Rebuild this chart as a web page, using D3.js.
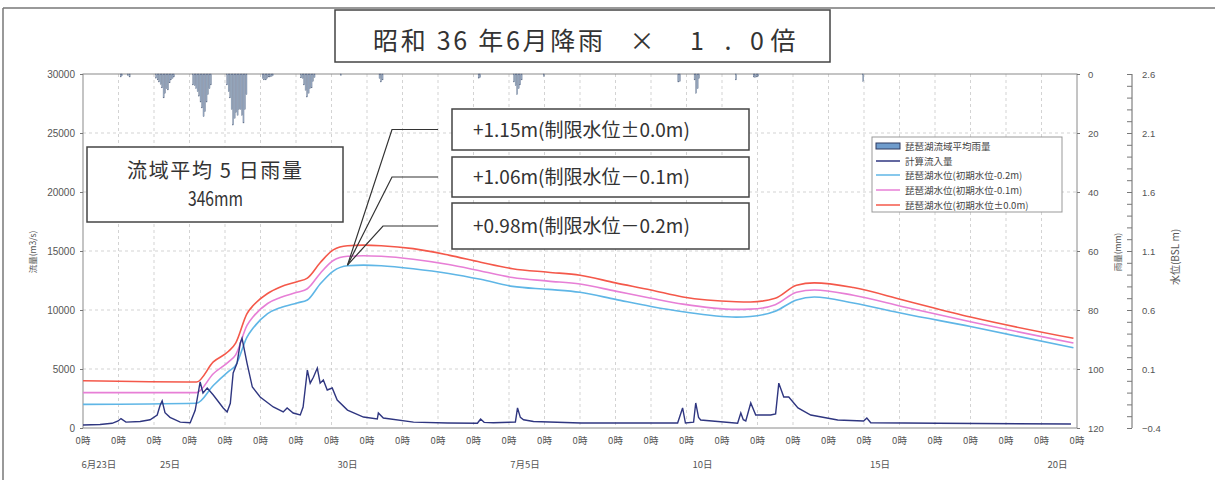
<!DOCTYPE html>
<html><head><meta charset="utf-8">
<script src="https://cdn.jsdelivr.net/npm/d3@7"></script>
<style>
body{margin:0;background:#fff}
svg{display:block}
text{font-family:"Noto Sans CJK JP","Noto Sans",sans-serif}
</style>
</head><body>
<svg id="chart" width="1215" height="480"></svg>
<script>
// ---------------- DATA ----------------
const titleMain = "昭和 36 年6月降雨";
const titleParts = ["×", "1", ".", "0", "倍"];
const boxLine1 = "流域平均 5 日雨量";
const boxLine2 = "346mm";
const annotTexts = ["+1.15m(制限水位±0.0m)", "+1.06m(制限水位－0.1m)", "+0.98m(制限水位－0.2m)"];
const legendTexts = ["琵琶湖流域平均雨量", "計算流入量", "琵琶湖水位(初期水位-0.2m)", "琵琶湖水位(初期水位-0.1m)", "琵琶湖水位(初期水位±0.0m)"];

const dayCount = 28;                 // 6/23 0時 .. 7/21 0時
const hourTickLabel = "0時";
const dateLabels = ["6月23日", "25日", "30日", "7月5日", "10日", "15日", "20日"];
const dateLabelDays = [0, 2, 7, 12, 17, 22, 27];
const flowTicks = [0, 5000, 10000, 15000, 20000, 25000, 30000];
const rainTicks = [0, 20, 40, 60, 80, 100, 120];
const levelTicks = [2.6, 2.1, 1.6, 1.1, 0.6, 0.1, -0.4];

// hourly basin rainfall (mm): bursts start hour (since 6/23 0時) and hourly values
const rainStart = [25, 30, 49, 74, 97, 121, 147, 174, 200, 267, 291, 311, 402, 413, 441, 453, 527];
const rainBursts = [
  [1, 0.6],
  [0.6, 1],
  [1.4, 2, 2.7, 3.5, 4.7, 8.1, 6.5, 5, 5.4, 3, 2, 1.5, 1],
  [3.7, 4, 5, 6, 7.5, 9.5, 11.5, 14.5, 12.8, 9.5, 7, 5, 3.7],
  [3.7, 6, 8.1, 12, 17.3, 15, 13, 14, 12, 12, 14, 16.6, 12, 7],
  [1.5, 2, 2, 1.5, 1, 1, 0.8, 0.5],
  [1.3, 1.5, 3.7, 5.5, 7.8, 6.5, 5, 4.7, 2.5, 1.2],
  [0.5],
  [1.5, 2.7, 2],
  [1.4, 1.2],
  [2.7, 4, 7, 5, 3.7, 2],
  [0.8],
  [2.7, 2.5],
  [2, 6.5, 5, 1.5],
  [2],
  [1, 1.2, 1, 0.8],
  [2.5]
];

// computed inflow (m3/s), time in days since 6/23 0時
const inflowDays = [0.00, 0.48, 0.82, 0.99, 1.07, 1.21, 1.61, 1.89, 2.09, 2.17, 2.23, 2.31, 2.45, 2.74, 3.02, 3.16, 3.30, 3.38, 3.50, 3.67, 3.95, 4.06, 4.15, 4.23, 4.34, 4.43, 4.48, 4.62, 4.77, 4.99, 5.36, 5.64, 5.75, 5.92, 6.12, 6.20, 6.32, 6.40, 6.49, 6.60, 6.68, 6.77, 6.88, 7.02, 7.16, 7.45, 7.90, 8.29, 8.32, 8.46, 9.31, 10.27, 11.11, 11.20, 11.30, 11.56, 12.18, 12.24, 12.32, 12.41, 12.69, 14.02, 16.75, 16.89, 16.97, 17.20, 17.26, 17.34, 17.40, 18.44, 18.53, 18.60, 18.67, 18.81, 18.95, 19.37, 19.51, 19.60, 19.74, 19.88, 20.14, 20.50, 21.26, 21.99, 22.08, 22.19, 24.08, 27.83];
const inflowQ = [250, 300, 400, 600, 800, 500, 550, 700, 1100, 1900, 2300, 1300, 900, 500, 450, 1500, 3900, 2970, 3390, 2800, 1700, 1360, 2100, 4660, 5500, 7200, 7600, 5500, 3470, 2630, 1780, 1360, 1700, 1270, 1100, 1780, 4900, 3800, 4300, 5080, 3800, 4070, 3220, 3390, 2370, 1520, 930, 760, 1270, 850, 500, 420, 400, 760, 480, 450, 500, 1700, 900, 700, 550, 420, 420, 1700, 420, 500, 2120, 900, 680, 400, 1270, 700, 600, 2120, 1100, 1100, 1200, 3800, 2630, 2630, 1700, 1100, 680, 600, 850, 450, 400, 340];

// Lake Biwa water level (BSL m)
const levelDays = [0, 3.2, 3.67, 4.1, 4.3, 4.62, 4.8, 5.2, 5.56, 6.03, 6.32, 6.68, 7.05, 7.45, 7.9, 8.4, 9.3, 10.3, 11.2, 12.1, 13.1, 14.0, 15.0, 16.0, 16.9, 18.4, 18.8, 19.5, 20.1, 20.6, 21.7, 23.1, 25.0, 27.9];
const levelInit00 = [0.00, -0.01, 0.16, 0.25, 0.32, 0.57, 0.64, 0.74, 0.795, 0.84, 0.87, 1.00, 1.11, 1.145, 1.15, 1.145, 1.12, 1.065, 1.005, 0.95, 0.92, 0.895, 0.83, 0.77, 0.71, 0.67, 0.668, 0.70, 0.81, 0.83, 0.79, 0.685, 0.54, 0.36];
const levelInitM01 = [-0.10, -0.10, 0.06, 0.16, 0.22, 0.47, 0.545, 0.655, 0.705, 0.75, 0.78, 0.91, 1.02, 1.055, 1.06, 1.055, 1.03, 0.985, 0.93, 0.875, 0.845, 0.82, 0.76, 0.70, 0.65, 0.605, 0.607, 0.645, 0.75, 0.77, 0.725, 0.628, 0.50, 0.32];
const levelInitM02 = [-0.20, -0.19, -0.04, 0.08, 0.13, 0.37, 0.45, 0.57, 0.62, 0.66, 0.685, 0.82, 0.93, 0.975, 0.98, 0.975, 0.95, 0.91, 0.86, 0.80, 0.775, 0.75, 0.69, 0.63, 0.585, 0.54, 0.545, 0.59, 0.685, 0.71, 0.66, 0.57, 0.46, 0.28];

const colors = {rain: "#a4b8cf", rainStroke: "#56637e", inflow: "#2f3680", red: "#f4584a", pink: "#e77fd6", blue: "#5fb6e6"};

// ---------------- CHART ----------------
const svg = d3.select("#chart");
const L = 83, R = 1077, T = 74, B = 428;

const x = d3.scaleLinear().domain([0, dayCount]).range([L, R]);
const yQ = d3.scaleLinear().domain([0, 30000]).range([B, T]);
const yR = d3.scaleLinear().domain([0, 120]).range([T, B]);
const yL = d3.scaleLinear().domain([-0.4, 2.6]).range([B, T]);

// page frame
svg.append("line").attr("x1", 3).attr("x2", 1215).attr("y1", 8).attr("y2", 8).attr("stroke", "#777").attr("stroke-width", 1.5);
svg.append("line").attr("x1", 3).attr("x2", 3).attr("y1", 8).attr("y2", 480).attr("stroke", "#777").attr("stroke-width", 1.5);

// grid
const grid = svg.append("g").attr("stroke", "#c8c8c8").attr("stroke-width", 0.8).attr("stroke-dasharray", "3,3");
grid.selectAll("line.v").data(d3.range(1, dayCount)).join("line")
  .attr("x1", d => x(d)).attr("x2", d => x(d)).attr("y1", T).attr("y2", B);
grid.selectAll("line.h").data(flowTicks.slice(1, -1)).join("line")
  .attr("x1", L).attr("x2", R).attr("y1", d => yQ(d)).attr("y2", d => yQ(d));

// plot frame
svg.append("rect").attr("x", L).attr("y", T).attr("width", R - L).attr("height", B - T)
  .attr("fill", "none").attr("stroke", "#8a8a8a").attr("stroke-width", 1);

// rain bars
const rainData = [];
rainStart.forEach((s, i) => rainBursts[i].forEach((v, j) => rainData.push({h: s + j, v})));
svg.append("g").selectAll("rect").data(rainData).join("rect")
  .attr("x", d => x(d.h / 24) + 0.2).attr("y", yR(0))
  .attr("width", d => x((d.h + 1) / 24) - x(d.h / 24) - 0.4)
  .attr("height", d => yR(d.v) - yR(0))
  .attr("fill", colors.rain).attr("stroke", colors.rainStroke).attr("stroke-width", 0.35);

// water level lines
const lvLine = arr => d3.line().x((d, i) => x(levelDays[i])).y(d => yL(d)).curve(d3.curveMonotoneX)(arr);
[[levelInitM02, colors.blue], [levelInitM01, colors.pink], [levelInit00, colors.red]].forEach(([arr, c]) => {
  svg.append("path").attr("d", lvLine(arr)).attr("fill", "none").attr("stroke", c).attr("stroke-width", 1.6);
});

// inflow line
const inLine = d3.line().x((d, i) => x(inflowDays[i])).y(d => yQ(d));
svg.append("path").attr("d", inLine(inflowQ)).attr("fill", "none").attr("stroke", colors.inflow).attr("stroke-width", 1.4);

// axes
const axisStyle = g => {
  g.select(".domain").remove();
  g.selectAll("line").attr("stroke", "#777");
  g.selectAll("text").attr("fill", "#555").style("font-family", "'Liberation Sans', Arial, sans-serif");
};
svg.append("g").attr("transform", `translate(${L},0)`)
  .call(d3.axisLeft(yQ).tickValues(flowTicks).tickSize(3).tickPadding(5).tickFormat(d3.format("d")))
  .attr("font-size", 10).call(axisStyle);
svg.append("g").attr("transform", `translate(${R},0)`)
  .call(d3.axisRight(yR).tickValues(rainTicks).tickSize(3).tickPadding(8).tickFormat(d3.format("d")))
  .attr("font-size", 9.5).call(axisStyle);

// water level axis
const wx = 1132;
svg.append("line").attr("x1", wx).attr("x2", wx).attr("y1", T).attr("y2", B).attr("stroke", "#666");
svg.append("g").attr("transform", `translate(${wx},0)`)
  .call(d3.axisLeft(yL).tickValues(d3.range(0, 31).map(i => -0.4 + i * 0.1)).tickSize(5).tickFormat(""))
  .call(axisStyle);
svg.append("g").attr("transform", `translate(${wx},0)`)
  .call(d3.axisRight(yL).tickValues(levelTicks).tickSize(0).tickPadding(10).tickFormat(d3.format(".1f")))
  .attr("font-size", 9.5).call(axisStyle);

// x labels
svg.append("g").selectAll("text").data(d3.range(0, dayCount + 1)).join("text")
  .attr("x", d => x(d)).attr("y", 444).attr("text-anchor", "middle")
  .attr("font-size", 9.5).attr("fill", "#555").text(hourTickLabel);
svg.append("g").selectAll("text").data(dateLabels).join("text")
  .attr("x", (d, i) => x(dateLabelDays[i] + 0.45)).attr("y", 468).attr("text-anchor", "middle")
  .attr("font-size", 9.5).attr("fill", "#555").text(d => d);

// axis titles
svg.append("text").attr("transform", "translate(36,252) rotate(-90)").attr("text-anchor", "middle")
  .attr("font-size", 8.5).attr("fill", "#555").text("流量(m3/s)");
svg.append("text").attr("transform", "translate(1121,252) rotate(-90)").attr("text-anchor", "middle")
  .attr("font-size", 8.5).attr("fill", "#555").text("雨量(mm)");
svg.append("text").attr("transform", "translate(1179,257) rotate(-90)").attr("text-anchor", "middle")
  .attr("font-size", 10).attr("fill", "#555").text("水位(BSL m)");

// title box
svg.append("rect").attr("x", 335).attr("y", 10).attr("width", 495).attr("height", 52)
  .attr("fill", "#fff").attr("stroke", "#444").attr("stroke-width", 1.5);
svg.append("text").attr("x", 373).attr("y", 50).attr("font-size", 25).attr("fill", "#333")
  .attr("textLength", 230).attr("lengthAdjust", "spacing").text(titleMain);
const tpx = [642, 697, 728, 757, 783];
svg.append("g").selectAll("text").data(titleParts).join("text")
  .attr("x", (d, i) => tpx[i]).attr("y", 50).attr("text-anchor", "middle")
  .attr("font-size", 25).attr("fill", "#333").text(d => d);

// rainfall summary box
svg.append("rect").attr("x", 87).attr("y", 147).attr("width", 256).attr("height", 75)
  .attr("fill", "#fff").attr("stroke", "#444").attr("stroke-width", 1.5);
svg.append("text").attr("x", 127).attr("y", 178).attr("font-size", 20).attr("fill", "#333")
  .attr("textLength", 175).attr("lengthAdjust", "spacing").text(boxLine1);
svg.append("text").attr("x", 188).attr("y", 206).attr("font-size", 20).attr("fill", "#333")
  .attr("textLength", 55).attr("lengthAdjust", "spacingAndGlyphs").text(boxLine2);

// annotation boxes with leader lines
const boxY = [109, 157, 203], boxH = [41, 40, 46];
const hStart = [392, 392, 383];
const ax = x(7.45), ay = yL(0.98);
const lead = svg.append("g").attr("stroke", "#333").attr("stroke-width", 1.2).attr("fill", "none");
boxY.forEach((by, i) => {
  const ly = by + boxH[i] / 2;
  lead.append("polyline").attr("points", `${ax},${ay} ${hStart[i]},${ly} 438,${ly}`);
  svg.append("rect").attr("x", 452).attr("y", by).attr("width", 297).attr("height", boxH[i])
    .attr("fill", "#fff").attr("stroke", "#444").attr("stroke-width", 1.5);
  svg.append("text").attr("x", 473).attr("y", ly + 7).attr("font-size", 19).attr("fill", "#333").text(annotTexts[i]);
});

// legend
const lg = svg.append("g");
lg.append("rect").attr("x", 872).attr("y", 137).attr("width", 190).attr("height", 75)
  .attr("fill", "#fff").attr("stroke", "#999").attr("stroke-width", 1);
const ly0 = [146, 161, 175, 190, 205];
const lcol = [null, colors.inflow, colors.blue, colors.pink, colors.red];
legendTexts.forEach((t, i) => {
  if (i === 0) {
    lg.append("rect").attr("x", 876).attr("y", ly0[i] - 3).attr("width", 24).attr("height", 6)
      .attr("fill", "#6f9ccc").attr("stroke", "#2f3a60").attr("stroke-width", 1);
  } else {
    lg.append("line").attr("x1", 876).attr("x2", 900).attr("y1", ly0[i]).attr("y2", ly0[i])
      .attr("stroke", lcol[i]).attr("stroke-width", 1.5);
  }
  lg.append("text").attr("x", 905).attr("y", ly0[i] + 3.5).attr("font-size", 9.5).attr("fill", "#444").text(t);
});
</script>
</body></html>
